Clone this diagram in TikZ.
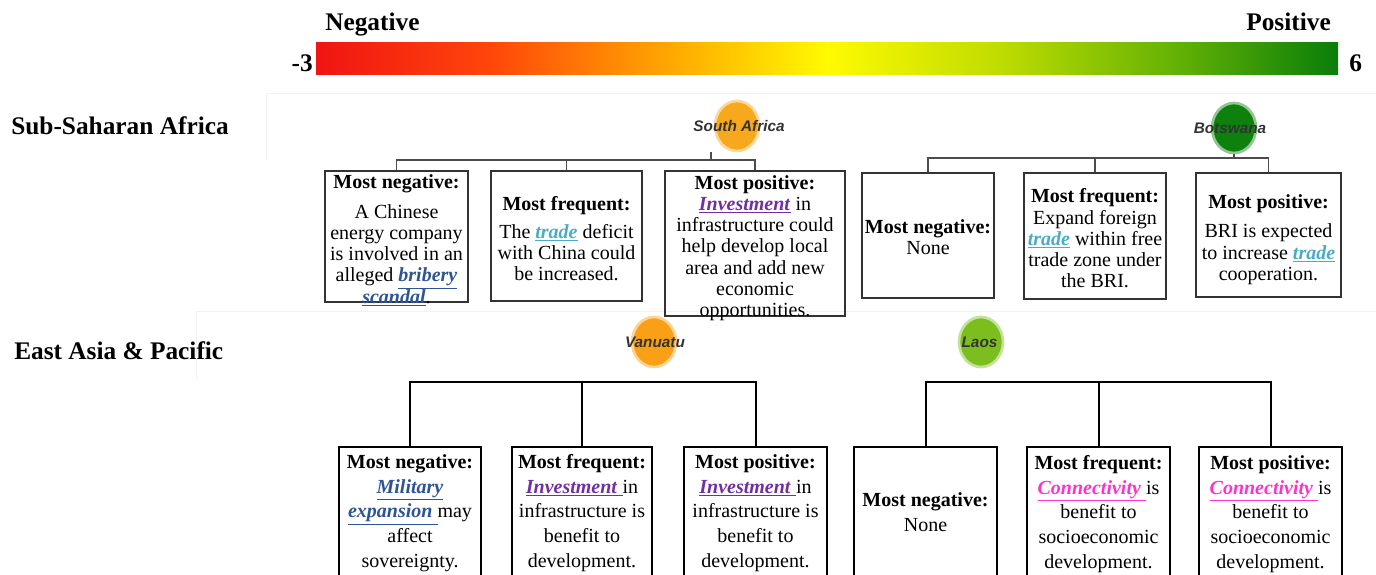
\documentclass[tikz,border=0pt]{standalone}
\usepackage{fontspec}
\setmainfont{Liberation Serif}
\newfontfamily\blobfont{Liberation Sans}
\usetikzlibrary{shapes.geometric,fit}

\definecolor{negblue}{RGB}{46,84,150}
\definecolor{tradeblue}{RGB}{75,172,198}
\definecolor{invpurple}{RGB}{112,48,160}
\definecolor{conpink}{RGB}{255,51,204}
\definecolor{saorange}{RGB}{247,168,28}
\definecolor{bwgreen}{RGB}{14,128,14}
\definecolor{vuorange}{RGB}{250,160,22}
\definecolor{lagreen}{RGB}{124,190,30}
\definecolor{scA}{RGB}{240,20,20}
\definecolor{scB}{RGB}{255,70,10}
\definecolor{scC}{RGB}{255,175,0}
\definecolor{scD}{RGB}{255,250,0}
\definecolor{scE}{RGB}{190,220,0}
\definecolor{scF}{RGB}{95,175,5}
\definecolor{scG}{RGB}{10,125,10}
\pgfdeclarehorizontalshading{perception}{100bp}{color(0bp)=(scA); color(25bp)=(scA); color(33.5bp)=(scB); color(43bp)=(scC); color(50bp)=(scD); color(58.5bp)=(scE); color(67.5bp)=(scF); color(75bp)=(scG); color(100bp)=(scG)}

\newcommand{\kwd}[2]{\textcolor{#1}{\raisebox{0pt}[\height][0pt]{\underline{\textbf{\textit{#2}}}}}}
\newcommand{\lnhd}{\rule{0pt}{11pt}}

\begin{document}
\begin{tikzpicture}[x=0.75pt, y=-0.75pt,
	region/.style={font=\fontsize{19}{22}\selectfont\bfseries, inner sep=0pt},
	blob/.style={ellipse, fill=#1, draw=#1!45, line width=2pt, minimum width=33pt, minimum height=37.5pt, inner sep=0pt},
	cname/.style={font=\blobfont\fontsize{11.5}{12}\selectfont\bfseries\itshape, text=black!80, inner sep=0pt},
	topbox/.style={draw=black!80, line width=0.8pt, inner sep=0pt},
	lowbox/.style={draw=black, line width=1.5pt, inner sep=0pt},
	toptxt/.style={anchor=north, align=center, inner sep=0pt, font=\fontsize{15}{15.9}\selectfont},
	lowtxt/.style={anchor=north, align=center, inner sep=0pt, font=\fontsize{15}{18.5}\selectfont},
	topline/.style={draw=black!70, line width=0.8pt},
	lowline/.style={draw=black, line width=1.5pt}]
	\useasboundingbox (0,0) rectangle (1376,574);
	\clip (0,0) rectangle (1376,574);
	\draw[black!5] (266,160) |- (1376,93);
	\draw[black!5] (196,380) |- (1376,311);

	% scale
	\shade[shading=perception] (316,43) rectangle (1338,75);
	\node[region, anchor=base west] (neg) at (325,31) {Negative};
	\node[region, anchor=base east] (pos) at (1331,31) {Positive};
	\node[region, anchor=base east] (lo) at (313,71.7) {-3};
	\node[region, anchor=base west] (hi) at (1349,71.7) {6};

	\node[region, anchor=base west] (ssa) at (11,135) {Sub-Saharan Africa};
	\node[region, anchor=base west] (eap) at (14,359) {East Asia \& Pacific};

	% countries
	\node[blob=saorange] (sa) at (737,126) {};
	\node[cname] (sa-name) at (739,126) {South Africa};
	\node[blob=bwgreen] (bw) at (1234,128) {};
	\node[cname] (bw-name) at (1230,128) {Botswana};
	\node[blob=vuorange] (vu) at (654,342) {};
	\node[cname] (vu-name) at (655,342) {Vanuatu};
	\node[blob=lagreen] (la) at (981,342) {};
	\node[cname] (la-name) at (979.5,342) {Laos};

	% boxes
	\node[topbox, fit={(325,171) (468,302)}] (sa-neg) {};
	\node[topbox, fit={(491,171) (642,301)}] (sa-freq) {};
	\node[topbox, fit={(665,171) (845,316)}] (sa-pos) {};
	\node[topbox, fit={(862,173) (994,298)}] (bw-neg) {};
	\node[topbox, fit={(1024,173) (1166,299)}] (bw-freq) {};
	\node[topbox, fit={(1196,173) (1341,297)}] (bw-pos) {};
	\node[lowbox, fit={(339,447) (481,600)}] (vu-neg) {};
	\node[lowbox, fit={(512,447) (652,600)}] (vu-freq) {};
	\node[lowbox, fit={(684,447) (827,600)}] (vu-pos) {};
	\node[lowbox, fit={(854,447) (997,600)}] (la-neg) {};
	\node[lowbox, fit={(1027,447) (1170,600)}] (la-freq) {};
	\node[lowbox, fit={(1199,447) (1342,600)}] (la-pos) {};

	\node[toptxt] (sa-neg-t) at (396.5,173.3) {\lnhd\textbf{Most negative:}\\[6.6pt] A Chinese\\ energy company\\ is involved in an\\ alleged \kwd{negblue}{bribery}\\ \kwd{negblue}{scandal}.};
	\node[toptxt] (sa-freq-t) at (566.5,195.3) {\lnhd\textbf{Most frequent:}\\[5.1pt] The \kwd{tradeblue}{trade} deficit\\ with China could\\ be increased.};
	\node[toptxt] (sa-pos-t) at (755,174.3) {\lnhd\textbf{Most positive:}\\ \kwd{invpurple}{Investment} in\\ infrastructure could\\ help develop local\\ area and add new\\ economic\\ opportunities.};
	\node[toptxt] (bw-neg-t) at (928,218.6) {\lnhd\textbf{Most negative:}\\ None};
	\node[toptxt] (bw-freq-t) at (1095,188) {\lnhd\textbf{Most frequent:}\\ Expand foreign\\ \kwd{tradeblue}{trade} within free\\ trade zone under\\ the BRI.};
	\node[toptxt] (bw-pos-t) at (1268.5,193.6) {\lnhd\textbf{Most positive:}\\[6.1pt] BRI is expected\\ to increase \kwd{tradeblue}{trade}\\ cooperation.};
	\node[lowtxt] (vu-neg-t) at (410,453.6) {\lnhd\textbf{Most negative:}\\ \kwd{negblue}{Military}\\ \kwd{negblue}{expansion\ }may\\ affect\\ sovereignty.};
	\node[lowtxt] (vu-freq-t) at (582,453.6) {\lnhd\textbf{Most frequent:}\\ \kwd{invpurple}{Investment\ }in\\ infrastructure is\\ benefit to\\ development.};
	\node[lowtxt] (vu-pos-t) at (755.5,453.6) {\lnhd\textbf{Most positive:}\\ \kwd{invpurple}{Investment\ }in\\ infrastructure is\\ benefit to\\ development.};
	\node[lowtxt] (la-neg-t) at (925.5,492) {\lnhd\textbf{Most negative:}\\ None};
	\node[lowtxt] (la-freq-t) at (1098.5,454.6) {\lnhd\textbf{Most frequent:}\\ \kwd{conpink}{Connectivity\ }is\\ benefit to\\ socioeconomic\\ development.};
	\node[lowtxt] (la-pos-t) at (1270.5,454.6) {\lnhd\textbf{Most positive:}\\ \kwd{conpink}{Connectivity\ }is\\ benefit to\\ socioeconomic\\ development.};

	% tree lines
	\coordinate (sa-stem) at (711,152);
	\coordinate (sa-bar) at (711,160);
	\draw[topline] (sa-stem) -- (sa-bar);
	\draw[topline] (sa-neg.north) |- (sa-bar -| sa-pos.north) -- (sa-pos.north);
	\draw[topline] (sa-freq.north) -- (sa-freq.north |- sa-bar);
	\coordinate (bw-bar) at (1234,158);
	\draw[topline] (bw.south) -- (bw-bar);
	\draw[topline] (bw-neg.north) |- (bw-bar -| bw-pos.north) -- (bw-pos.north);
	\draw[topline] (bw-freq.north) -- (bw-freq.north |- bw-bar);
	\coordinate (vu-bar) at (582,382);
	\draw[lowline] (vu-neg.north) |- (vu-bar -| vu-pos.north) -- (vu-pos.north);
	\draw[lowline] (vu-freq.north) -- (vu-freq.north |- vu-bar);
	\coordinate (la-bar) at (1098.5,382);
	\draw[lowline] (la-neg.north) |- (la-bar -| la-pos.north) -- (la-pos.north);
	\draw[lowline] (la-freq.north) -- (la-freq.north |- la-bar);
\end{tikzpicture}
\end{document}
